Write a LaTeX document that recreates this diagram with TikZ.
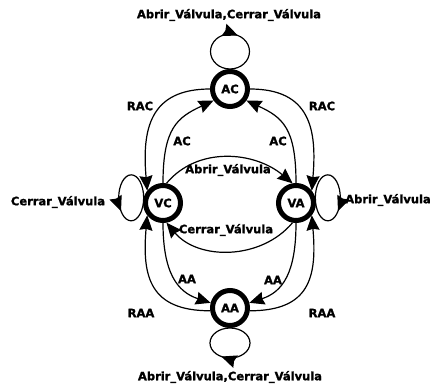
\documentclass[tikz,border=0pt]{standalone}
\usepackage{fontspec}
\setmainfont{DejaVu Sans}[BoldFeatures={FakeBold=1.4}]
\usetikzlibrary{arrows.meta,decorations.markings}
\newcommand\lblfont{\fontsize{11.5}{13}\selectfont\bfseries}

\begin{document}
\begin{tikzpicture}[x=1pt,y=1pt,
  state/.style={circle,draw,line width=5pt,minimum size=35pt,inner sep=0pt,font=\lblfont},
  lbl/.style={font=\lblfont,inner sep=0pt},
  trans/.style={line width=1.2pt,-{Stealth[length=15pt,width=13pt,inset=1.5pt]}},
  loopmark/.style={line width=1.2pt,postaction={decorate},
    decoration={markings,mark=at position #1 with {\arrow{Stealth[length=15pt,width=13pt,inset=1.5pt]}}}},
]
\useasboundingbox (0,0) rectangle (436,-389);

% states
\node[state] (AC) at (230,-89)  {AC};
\node[state] (VC) at (163,-203) {VC};
\node[state] (VA) at (296,-203) {VA};
\node[state] (AA) at (230,-308) {AA};

% inner arcs towards AC and AA
\draw[trans] (VC.north) to[out=90,in=205,out distance=55pt,in distance=40pt] (AC.215);
\draw[trans] (VA.north) to[out=90,in=-25,out distance=55pt,in distance=40pt] (AC.-35);
\draw[trans] (VC.south) to[out=-90,in=162,out distance=50pt,in distance=35pt] (AA.165);
\draw[trans] (VA.south) to[out=-90,in=18,out distance=50pt,in distance=35pt] (AA.15);

% outer return arcs
\draw[trans] (AC.180) to[out=180,in=95,out distance=60pt,in distance=62pt] (VC.142);
\draw[trans] (AC.0)   to[out=0,in=85,out distance=60pt,in distance=62pt] (VA.38);
\draw[trans] (AA.188) to[out=180,in=-95,out distance=60pt,in distance=62pt] (VC.218);
\draw[trans] (AA.-8)  to[out=0,in=-85,out distance=60pt,in distance=62pt] (VA.-38);

% valve transitions between VC and VA
\draw[trans] (VC.80)   to[out=50,in=140] (VA.100);
\draw[trans] (VA.-100) to[out=-130,in=-50] (VC.-80);

% self loops: closed ellipses resting on the state rings
\draw[loopmark=0.57] (AC.north) arc[start angle=-90,end angle=-450,x radius=19.5,y radius=17.5];
\draw[loopmark=0.62] (VC.165)   arc[start angle=0,end angle=360,x radius=12.5,y radius=23];
\draw[loopmark=0.62] (VA.15)    arc[start angle=180,end angle=-180,x radius=12.5,y radius=23];
\draw[loopmark=0.58] (AA.south) arc[start angle=90,end angle=-270,x radius=20,y radius=15];

% labels
\node[lbl] (lAC)  at (229,-15)  {Abrir\_Válvula,Cerrar\_Válvula};
\node[lbl] (lAA)  at (230,-377) {Abrir\_Válvula,Cerrar\_Válvula};
\node[lbl] (lVC)  at (58,-202)  {Cerrar\_Válvula};
\node[lbl] (lVA)  at (388,-200) {Abrir\_Válvula};
\node[lbl] (lab)  at (228,-170) {Abrir\_Válvula};
\node[lbl] (lce)  at (226,-230) {Cerrar\_Válvula};
\node[lbl] (rac1) at (140,-106) {RAC};
\node[lbl] (rac2) at (322,-106) {RAC};
\node[lbl] (ac1)  at (182,-141) {AC};
\node[lbl] (ac2)  at (278,-141) {AC};
\node[lbl] (aa1)  at (187,-279) {AA};
\node[lbl] (aa2)  at (273,-280) {AA};
\node[lbl] (raa1) at (141,-313) {RAA};
\node[lbl] (raa2) at (322,-313) {RAA};
\end{tikzpicture}
\end{document}
